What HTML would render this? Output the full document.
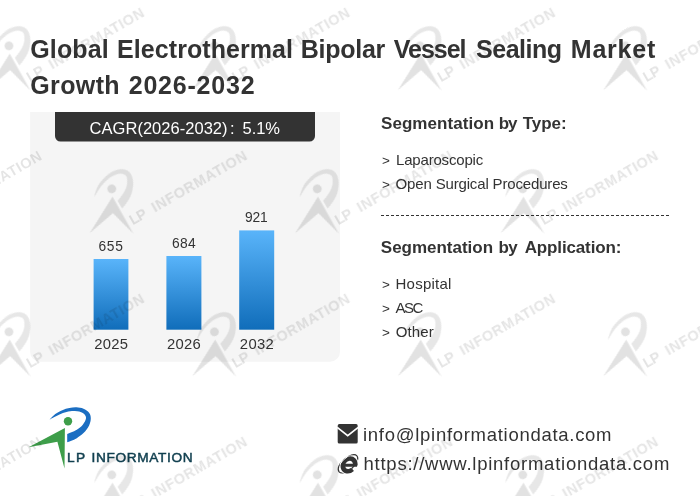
<!DOCTYPE html>
<html>
<head>
<meta charset="utf-8">
<title>Global Electrothermal Bipolar Vessel Sealing Market Growth 2026-2032</title>
<style>
html,body{margin:0;padding:0;background:#ffffff;}
body{width:700px;height:496px;position:relative;overflow:hidden;font-family:"Liberation Sans", sans-serif;}
.t{position:absolute;white-space:nowrap;line-height:40px;font-family:"Liberation Sans", sans-serif;}
#txt{position:absolute;left:0;top:0;width:700px;height:496px;will-change:transform;}
.dash{position:absolute;left:381px;top:215px;width:289px;height:1px;background:repeating-linear-gradient(to right,#333333 0,#333333 3px,transparent 3px,transparent 5px);}
svg{position:absolute;left:0;top:0;}
</style>
</head>
<body>
<svg width="700" height="496" viewBox="0 0 700 496">
<defs>
<linearGradient id="bg" x1="0" y1="0" x2="0" y2="1">
<stop offset="0" stop-color="#59b4fa"/>
<stop offset="1" stop-color="#106dba"/>
</linearGradient>
</defs>
<path d="M30.1,111.9 H340 V351.7 A10,10 0 0 1 330,361.7 H40.1 A10,10 0 0 1 30.1,351.7 Z" fill="#f5f5f5"/>
<path d="M55,111.9 H315 V136.1 A5.5,5.5 0 0 1 309.5,141.6 H60.5 A5.5,5.5 0 0 1 55,136.1 Z" fill="#333333"/>
<rect x="93.6" y="259" width="34.8" height="70.7" fill="url(#bg)"/>
<rect x="166.4" y="256" width="35" height="73.7" fill="url(#bg)"/>
<rect x="239.2" y="230.4" width="35" height="99.3" fill="url(#bg)"/>
</svg>
<div class="dash"></div>
<div id="txt">
<div class="t" style="left:30.27px;top:29px;font-size:25px;font-weight:bold;letter-spacing:0.115px;color:#333333">Global</div>
<div class="t" style="left:117.07px;top:29px;font-size:25px;font-weight:bold;letter-spacing:0.067px;color:#333333">Electrothermal</div>
<div class="t" style="left:300.82px;top:29px;font-size:25px;font-weight:bold;letter-spacing:-0.274px;color:#333333">Bipolar</div>
<div class="t" style="left:393.76px;top:29px;font-size:25px;font-weight:bold;letter-spacing:-1.012px;color:#333333">Vessel</div>
<div class="t" style="left:476.08px;top:29px;font-size:25px;font-weight:bold;letter-spacing:-0.489px;color:#333333">Sealing</div>
<div class="t" style="left:570.82px;top:29px;font-size:25px;font-weight:bold;letter-spacing:0.774px;color:#333333">Market</div>
<div class="t" style="left:30.27px;top:65px;font-size:25px;font-weight:bold;letter-spacing:0.377px;color:#333333">Growth</div>
<div class="t" style="left:128.72px;top:65px;font-size:25px;font-weight:bold;letter-spacing:0.782px;color:#333333">2026-2032</div>
<div class="t" style="left:89.61px;top:108px;font-size:16.5px;letter-spacing:0.027px;color:#ffffff">CAGR(2026-2032)</div>
<div class="t" style="left:230.01px;top:108px;font-size:16.5px;color:#ffffff">:</div>
<div class="t" style="left:242.59px;top:108px;font-size:16.5px;letter-spacing:-0.079px;color:#ffffff">5.1%</div>
<div class="t" style="left:381.03px;top:104px;font-size:17px;font-weight:bold;letter-spacing:0.055px;color:#333333">Segmentation</div>
<div class="t" style="left:498.76px;top:104px;font-size:17px;font-weight:bold;letter-spacing:-1.201px;color:#333333">by</div>
<div class="t" style="left:522.76px;top:104px;font-size:17px;font-weight:bold;letter-spacing:-0.047px;color:#333333">Type:</div>
<div class="t" style="left:380.83px;top:228px;font-size:17px;font-weight:bold;letter-spacing:-0.018px;color:#333333">Segmentation</div>
<div class="t" style="left:498.56px;top:228px;font-size:17px;font-weight:bold;letter-spacing:-0.801px;color:#333333">by</div>
<div class="t" style="left:524.71px;top:228px;font-size:17px;font-weight:bold;letter-spacing:-0.14px;color:#333333">Application:</div>
<div class="t" style="left:382.1px;top:141px;font-size:13.5px;color:#333333">&gt;</div>
<div class="t" style="left:396.05px;top:140px;font-size:15px;letter-spacing:-0.19px;color:#333333">Laparoscopic</div>
<div class="t" style="left:382.1px;top:165px;font-size:13.5px;color:#333333">&gt;</div>
<div class="t" style="left:395.58px;top:164px;font-size:15px;letter-spacing:-0.16px;color:#333333">Open Surgical Procedures</div>
<div class="t" style="left:382.1px;top:265px;font-size:13.5px;color:#333333">&gt;</div>
<div class="t" style="left:395.55px;top:264px;font-size:15px;letter-spacing:0.229px;color:#333333">Hospital</div>
<div class="t" style="left:382.1px;top:289px;font-size:13.5px;color:#333333">&gt;</div>
<div class="t" style="left:395.43px;top:288px;font-size:15px;letter-spacing:-1.5px;color:#333333">ASC</div>
<div class="t" style="left:382.1px;top:313px;font-size:13.5px;color:#333333">&gt;</div>
<div class="t" style="left:395.68px;top:312px;font-size:15px;letter-spacing:0.164px;color:#333333">Other</div>
<div class="t" style="left:363.05px;top:415px;font-size:18.5px;letter-spacing:0.714px;color:#333333">info@lpinformationdata.com</div>
<div class="t" style="left:363.55px;top:444px;font-size:18.5px;letter-spacing:0.751px;color:#333333">https://www.lpinformationdata.com</div>
<div class="t" style="left:67.09px;top:438px;font-size:13.7px;-webkit-text-stroke:0.5px #103f4f;letter-spacing:1.223px;color:#103f4f">LP</div>
<div class="t" style="left:91.45px;top:438px;font-size:13.7px;-webkit-text-stroke:0.5px #103f4f;letter-spacing:0.646px;color:#103f4f">INFORMATION</div>
<div class="t" style="left:98.49px;top:227px;font-size:13.8px;letter-spacing:0.676px;color:#333333">655</div>
<div class="t" style="left:171.89px;top:224px;font-size:13.8px;letter-spacing:0.348px;color:#333333">684</div>
<div class="t" style="left:245.08px;top:198px;font-size:13.8px;letter-spacing:-0.222px;color:#333333">921</div>
<div class="t" style="left:94.15px;top:324px;font-size:14.8px;letter-spacing:0.297px;color:#333333">2025</div>
<div class="t" style="left:167.05px;top:324px;font-size:14.8px;letter-spacing:0.27px;color:#333333">2026</div>
<div class="t" style="left:239.85px;top:324px;font-size:14.8px;letter-spacing:0.325px;color:#333333">2032</div>
</div>
<svg width="700" height="496" viewBox="0 0 700 496">
<defs>
<g id="wm">
<path d="M29.6,19.5 C30.6,18.6 33.1,15.7 35.3,14.1 C37.4,12.6 40.0,11.2 42.3,10.2 C44.7,9.1 47.0,8.5 49.4,8.0 C51.7,7.6 54.1,7.2 56.4,7.3 C58.8,7.5 61.4,7.9 63.5,8.7 C65.6,9.6 67.9,11.1 69.1,12.7 C70.3,14.3 70.8,16.2 70.8,18.3 C70.8,20.5 70.3,22.9 69.1,25.4 C67.9,27.9 65.6,31.0 63.5,33.1 C61.4,35.3 59.1,36.8 56.4,38.4 C53.7,39.9 48.8,41.7 47.2,42.3 L47.2,33.9 C48.8,33.2 53.8,31.4 56.4,29.9 C59.0,28.4 61.2,26.6 62.8,24.7 C64.4,22.8 65.8,20.1 66.0,18.3 C66.2,16.6 65.3,15.2 64.2,14.1 C63.0,13.0 61.0,12.1 59.2,11.6 C57.5,11.0 55.7,10.9 53.6,11.0 C51.5,11.1 48.9,11.4 46.5,12.0 C44.2,12.6 41.6,13.5 39.5,14.4 C37.4,15.3 35.5,16.4 33.9,17.2 C32.2,18.1 30.3,19.1 29.6,19.5 Z" fill-opacity="0.095"/>
<path d="M8.6,47.3 L44.9,28.0 L44.5,68.6 L37.4,41.8 Z" fill-opacity="0.115"/>
<circle cx="48" cy="21.2" r="4.2" fill-opacity="0.115"/>
<text x="48" y="61.6" font-family='"Liberation Sans", sans-serif' font-size="13.8" font-weight="bold" textLength="16.8" lengthAdjust="spacing">LP</text>
<text x="72.4" y="61.6" font-family='"Liberation Sans", sans-serif' font-size="13.8" font-weight="bold" textLength="102.5" lengthAdjust="spacing">INFORMATION</text>
</g>
</defs>
<!-- logo -->
<g transform="translate(20,400)">
<path d="M29.6,19.5 C30.6,18.6 33.1,15.7 35.3,14.1 C37.4,12.6 40.0,11.2 42.3,10.2 C44.7,9.1 47.0,8.5 49.4,8.0 C51.7,7.6 54.1,7.2 56.4,7.3 C58.8,7.5 61.4,7.9 63.5,8.7 C65.6,9.6 67.9,11.1 69.1,12.7 C70.3,14.3 70.8,16.2 70.8,18.3 C70.8,20.5 70.3,22.9 69.1,25.4 C67.9,27.9 65.6,31.0 63.5,33.1 C61.4,35.3 59.1,36.8 56.4,38.4 C53.7,39.9 48.8,41.7 47.2,42.3 L47.2,33.9 C48.8,33.2 53.8,31.4 56.4,29.9 C59.0,28.4 61.2,26.6 62.8,24.7 C64.4,22.8 65.8,20.1 66.0,18.3 C66.2,16.6 65.3,15.2 64.2,14.1 C63.0,13.0 61.0,12.1 59.2,11.6 C57.5,11.0 55.7,10.9 53.6,11.0 C51.5,11.1 48.9,11.4 46.5,12.0 C44.2,12.6 41.6,13.5 39.5,14.4 C37.4,15.3 35.5,16.4 33.9,17.2 C32.2,18.1 30.3,19.1 29.6,19.5 Z" fill="#1b6ec2"/>
<path d="M8.6,47.3 L44.9,28.0 L44.5,68.6 L37.4,41.8 Z" fill="#3e9e4a"/>
<circle cx="48" cy="21.2" r="4.2" fill="#3e9e4a"/>
</g>
<!-- mail icon -->
<g>
<rect x="337.7" y="424.1" width="20" height="19.4" rx="1.6" fill="#333333"/>
<path d="M337.2,427.4 L347.7,435.6 L358.2,427.4" fill="none" stroke="#ffffff" stroke-width="1.7"/>
</g>
<!-- ie icon -->
<g>
<ellipse cx="348.0" cy="463.8" rx="12.0" ry="6.0" transform="rotate(-42 348.0 463.8)" fill="none" stroke="#333333" stroke-width="1.1"/>
<g transform="translate(349.1,464.4) skewX(-9)">
<path d="M6.1,0.9 A6.1,6.3 0 1 0 4.3,5.0" fill="none" stroke="#ffffff" stroke-width="6.2"/>
<path d="M6.1,0.9 A6.1,6.3 0 1 0 4.3,5.0" fill="none" stroke="#333333" stroke-width="4.5"/>
<rect x="-6" y="-0.7" width="14.3" height="3.1" fill="#333333"/>
</g>
<path d="M339.9,464.3 A12.0,6.0 -42 0 1 347.6,456.7" fill="none" stroke="#ffffff" stroke-width="0.9"/>
</g>
<!-- watermarks -->
<g fill="#000000" fill-opacity="0.105">
<use href="#wm" transform="translate(-148.5,-91.2) rotate(-30) scale(1.05)"/>
<use href="#wm" transform="translate(57.0,-91.2) rotate(-30) scale(1.05)"/>
<use href="#wm" transform="translate(262.5,-91.2) rotate(-30) scale(1.05)"/>
<use href="#wm" transform="translate(468.0,-91.2) rotate(-30) scale(1.05)"/>
<use href="#wm" transform="translate(673.5,-91.2) rotate(-30) scale(1.05)"/>
<use href="#wm" transform="translate(-251.3,51.8) rotate(-30) scale(1.05)"/>
<use href="#wm" transform="translate(-148.5,194.8) rotate(-30) scale(1.05)"/>
<use href="#wm" transform="translate(-45.8,51.8) rotate(-30) scale(1.05)"/>
<use href="#wm" transform="translate(57.0,194.8) rotate(-30) scale(1.05)"/>
<use href="#wm" transform="translate(159.7,51.8) rotate(-30) scale(1.05)"/>
<use href="#wm" transform="translate(262.5,194.8) rotate(-30) scale(1.05)"/>
<use href="#wm" transform="translate(365.2,51.8) rotate(-30) scale(1.05)"/>
<use href="#wm" transform="translate(468.0,194.8) rotate(-30) scale(1.05)"/>
<use href="#wm" transform="translate(570.7,51.8) rotate(-30) scale(1.05)"/>
<use href="#wm" transform="translate(673.5,194.8) rotate(-30) scale(1.05)"/>
<use href="#wm" transform="translate(-251.3,337.8) rotate(-30) scale(1.05)"/>
<use href="#wm" transform="translate(-148.5,480.8) rotate(-30) scale(1.05)"/>
<use href="#wm" transform="translate(-45.8,337.8) rotate(-30) scale(1.05)"/>
<use href="#wm" transform="translate(57.0,480.8) rotate(-30) scale(1.05)"/>
<use href="#wm" transform="translate(159.7,337.8) rotate(-30) scale(1.05)"/>
<use href="#wm" transform="translate(262.5,480.8) rotate(-30) scale(1.05)"/>
<use href="#wm" transform="translate(365.2,337.8) rotate(-30) scale(1.05)"/>
<use href="#wm" transform="translate(468.0,480.8) rotate(-30) scale(1.05)"/>
<use href="#wm" transform="translate(570.7,337.8) rotate(-30) scale(1.05)"/>
<use href="#wm" transform="translate(673.5,480.8) rotate(-30) scale(1.05)"/>
</g>
</svg>
</body>
</html>
